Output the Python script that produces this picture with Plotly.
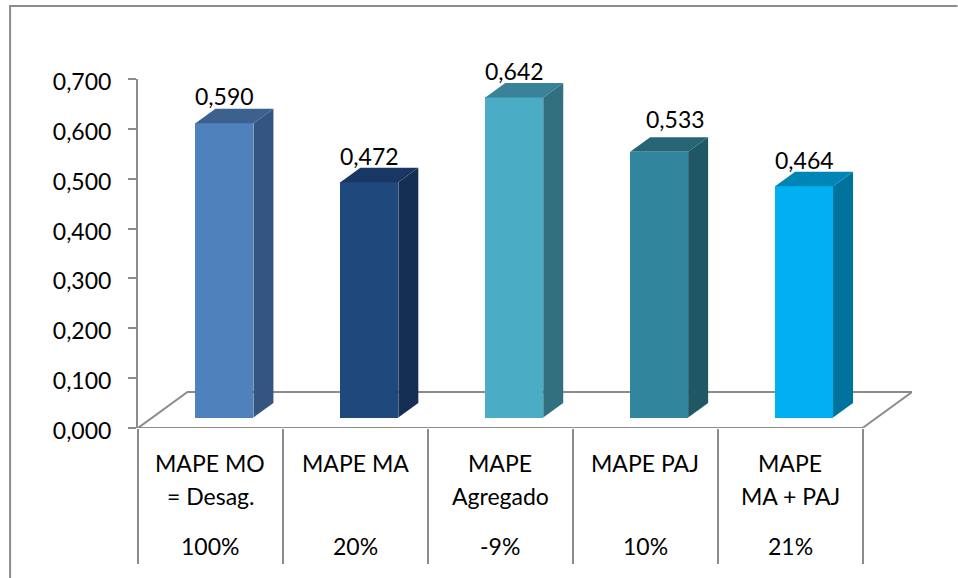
import plotly.graph_objects as go

# Series
values = [0.590, 0.472, 0.642, 0.533, 0.464]
row_one = ["MAPE MO", "MAPE MA", "MAPE", "MAPE PAJ", "MAPE"]
row_two = ["= Desag.", "", "Agregado", "", "MA + PAJ"]
row_pct = ["100%", "20%", "-9%", "10%", "21%"]

# Face colours of each column
front = ["#4f81bd", "#1f497d", "#4bacc6", "#31859c", "#00b0f0"]
side = ["#345580", "#152f52", "#31717f", "#205765", "#00739d"]
top = ["#3c618f", "#183863", "#398297", "#256575", "#0085b6"]

# Plot frame in pixels
W, H = 958, 578
AX_L, AX_R, AX_T, AX_B = 137.5, 912.0, 79.0, 428.0
CAT_PX = 145.0
UNIT_PX = (AX_B - AX_T) / 0.7


def px_x(p):
    return (p - AX_L) / (AX_R - AX_L)


def px_y(p):
    return (AX_B - p) / (AX_B - AX_T)


# Pseudo-3D depth, in axis units
BAR_W = 58 / CAT_PX
BAR_OFF = 57.5 / CAT_PX
BAR_DX = 20 / CAT_PX
BAR_DY = 14.5 / UNIT_PX
BASE = 10.5 / UNIT_PX
FLOOR_DX = 49.5 / CAT_PX
FLOOR_DY = 36 / UNIT_PX

GREY = "#8c8c8c"
FONT = "Lato"
FS = 23

fig = go.Figure()

# Front faces
centers = [i + BAR_OFF + BAR_W / 2 for i in range(len(values))]
fig.add_trace(go.Bar(
    x=centers, y=values, base=BASE, width=BAR_W,
    marker=dict(color=front, line=dict(width=0)),
    showlegend=False,
))

# Side and top faces follow each column's value
for i, v in enumerate(values):
    x0 = i + BAR_OFF
    x1 = x0 + BAR_W
    t = BASE + v
    fig.add_trace(go.Scatter(
        x=[x1, x1, x1 + BAR_DX, x1 + BAR_DX, x1],
        y=[BASE, t, t + BAR_DY, BASE + BAR_DY, BASE],
        mode="lines", fill="toself", fillcolor=side[i],
        line=dict(width=0, color=side[i]),
        hoverinfo="skip", showlegend=False,
    ))
    fig.add_trace(go.Scatter(
        x=[x0, x1, x1 + BAR_DX, x0 + BAR_DX, x0],
        y=[t, t, t + BAR_DY, t + BAR_DY, t],
        mode="lines", fill="toself", fillcolor=top[i],
        line=dict(width=0, color=top[i]),
        hoverinfo="skip", showlegend=False,
    ))

# Value labels above the columns
label_shift = [(0, 27), (0, 26), (0, 26), (16, 33), (0, 26)]
annotations = []
for c, v, (sx, sy) in zip(centers, values, label_shift):
    annotations.append(dict(
        x=c, y=BASE + v, xref="x", yref="y",
        text=f"{v:.3f}".replace(".", ","), showarrow=False,
        xshift=sx, yshift=sy, yanchor="middle", xanchor="center",
        font=dict(family=FONT, size=FS, color="#000000"),
    ))

# Category table below the axis
for rows, py in ((row_one, 463), (row_two, 496), (row_pct, 546)):
    for i, label in enumerate(rows):
        if label:
            annotations.append(dict(
                x=i + 0.5, y=px_y(py), xref="x", yref="paper",
                text=label, showarrow=False,
                xanchor="center", yanchor="middle",
                font=dict(family=FONT, size=FS, color="#000000"),
            ))

# Chart frame: left and top edges only
frame = dict(type="line", xref="paper", yref="paper",
             line=dict(color=GREY, width=2))
shapes = [
    dict(frame, x0=px_x(9.5), x1=px_x(9.5), y0=px_y(6), y1=px_y(H)),
    dict(frame, x0=px_x(8.5), x1=px_x(957.5), y0=px_y(6), y1=px_y(6)),
    # Floor of the 3D plot, behind the columns
    dict(type="path", xref="x", yref="y", layer="below",
         path=f"M 0 0 L 5 0 L {5 + FLOOR_DX} {FLOOR_DY} L {FLOOR_DX} {FLOOR_DY} Z",
         line=dict(color=GREY, width=2)),
]

fig.update_layout(
    width=W, height=H,
    margin=dict(l=AX_L, r=W - AX_R, t=AX_T, b=H - AX_B, pad=0),
    paper_bgcolor="white", plot_bgcolor="white",
    separators=",.",
    showlegend=False, bargap=0,
    annotations=annotations, shapes=shapes,
    font=dict(family=FONT, size=FS, color="#000000"),
    xaxis=dict(
        range=[0, 5 + FLOOR_DX], showgrid=False, zeroline=False,
        showline=False, showticklabels=False, ticks="",
        minor=dict(ticks="outside", tickmode="array",
                   tickvals=list(range(6)), ticklen=135,
                   tickcolor=GREY, tickwidth=2, showgrid=False),
    ),
    yaxis=dict(
        range=[0, 0.7], tickmode="array",
        tickvals=[0, 0.1, 0.2, 0.3, 0.4, 0.5, 0.6, 0.7],
        tickformat=".3f", showgrid=False, zeroline=False,
        showline=True, linecolor=GREY, linewidth=2,
        ticks="outside", ticklen=8, tickcolor=GREY, tickwidth=2,
        ticklabelstandoff=12, ticklabelshift=3,
        tickfont=dict(family=FONT, size=FS, color="#000000"),
    ),
)

fig.write_html("out.html", config=dict(displayModeBar=False))
